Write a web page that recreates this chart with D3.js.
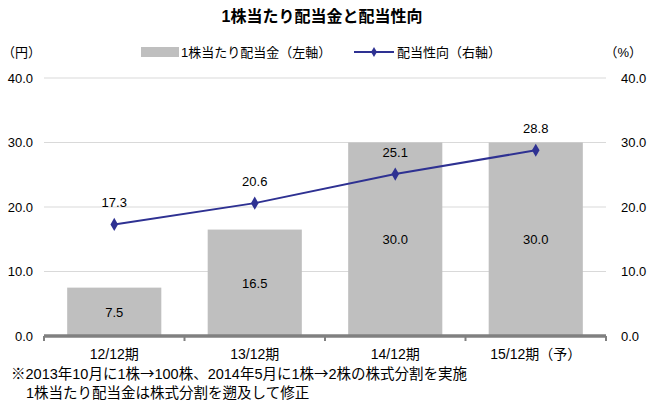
<!DOCTYPE html>
<html><head><meta charset="utf-8">
<script src="https://cdn.jsdelivr.net/npm/d3@7"></script>
<style>
body{margin:0;background:#fff;}
text{font-family:"Liberation Sans","Noto Sans CJK JP",sans-serif;}
</style></head>
<body><svg id="c" width="652" height="406"></svg>
<script>
const categories = ["12/12期","13/12期","14/12期","15/12期（予）"];
const dividend = [7.5, 16.5, 30.0, 30.0];
const payoutRatio = [17.3, 20.6, 25.1, 28.8];
const yTicks = [0, 10, 20, 30, 40];
const title = "1株当たり配当金と配当性向";
const legendBar = "1株当たり配当金（左軸）";
const legendLine = "配当性向（右軸）";
const notes = ["※2013年10月に1株→100株、2014年5月に1株→2株の株式分割を実施","1株当たり配当金は株式分割を遡及して修正"];

const svg = d3.select("#c");
const L = 44, R = 606, T = 78, B = 336;
const x = d3.scaleBand().domain(categories).range([L, R]).paddingInner(0.33).paddingOuter(0.165);
const xOuter = d3.scaleBand().domain(categories).range([L, R]);
const yL = d3.scaleLinear().domain([0, 40]).range([B, T]);
const yR = d3.scaleLinear().domain([0, 40]).range([B, T]);

svg.append("text").attr("x", 322).attr("y", 22).attr("text-anchor", "middle")
  .attr("font-size", 16).attr("font-weight", "bold").attr("fill", "#000").text(title);

// grid
svg.append("g").selectAll("line").data(yTicks.filter(d => d > 0)).join("line")
  .attr("x1", L).attr("x2", R).attr("y1", d => yL(d)).attr("y2", d => yL(d))
  .attr("stroke", "#d9d9d9").attr("stroke-width", 1);

// axes labels
const fmt = d3.format(".1f");
const gl = svg.append("g").attr("transform", `translate(${L},0)`)
  .call(d3.axisLeft(yL).tickValues(yTicks).tickFormat(fmt).tickSize(0).tickPadding(11));
const gr = svg.append("g").attr("transform", `translate(${R},0)`)
  .call(d3.axisRight(yR).tickValues(yTicks).tickFormat(fmt).tickSize(0).tickPadding(15));
[gl, gr].forEach(g => { g.select(".domain").remove(); g.selectAll("text").attr("font-size", 13).attr("fill", "#000").attr("font-family", "Liberation Sans, sans-serif"); });

// bars
svg.append("g").selectAll("rect").data(dividend).join("rect")
  .attr("x", (d, i) => x(categories[i])).attr("width", x.bandwidth())
  .attr("y", d => yL(d)).attr("height", d => B - yL(d)).attr("fill", "#bfbfbf");

svg.append("g").selectAll("text").data(dividend).join("text")
  .attr("x", (d, i) => x(categories[i]) + x.bandwidth() / 2)
  .attr("y", d => (yL(d) + B) / 2 + 5).attr("text-anchor", "middle")
  .attr("font-size", 13).attr("fill", "#000").text(d => fmt(d));

// x axis
const gx = svg.append("g").attr("transform", `translate(0,${B})`)
  .call(d3.axisBottom(xOuter).tickSize(0).tickPadding(13));
gx.select(".domain").remove();
gx.selectAll("text").attr("font-size", 14).attr("fill", "#000");
svg.append("line").attr("x1", L).attr("x2", R).attr("y1", B).attr("y2", B)
  .attr("stroke", "#808080").attr("stroke-width", 3.5);
const bounds = [L].concat(categories.map(c => xOuter(c) + xOuter.bandwidth()));
svg.append("g").selectAll("line").data(bounds).join("line")
  .attr("x1", d => d).attr("x2", d => d).attr("y1", B).attr("y2", B + 5)
  .attr("stroke", "#808080").attr("stroke-width", 2);

// line
const cx = i => xOuter(categories[i]) + xOuter.bandwidth() / 2;
svg.append("path").datum(payoutRatio)
  .attr("d", d3.line().x((d, i) => cx(i)).y(d => yR(d)))
  .attr("fill", "none").attr("stroke", "#2e3192").attr("stroke-width", 2);
svg.append("g").selectAll("path").data(payoutRatio).join("path")
  .attr("transform", (d, i) => `translate(${cx(i)},${yR(d)})`)
  .attr("d", d3.symbol(d3.symbolDiamond, 50)()).attr("fill", "#2e3192");
svg.append("g").selectAll("text").data(payoutRatio).join("text")
  .attr("x", (d, i) => cx(i)).attr("y", d => yR(d) - 17).attr("text-anchor", "middle")
  .attr("font-size", 13).attr("fill", "#000").text(d => fmt(d));

// unit labels
svg.append("text").attr("x", 2).attr("y", 57).attr("font-size", 13).text("（円）");
svg.append("text").attr("x", 642).attr("y", 57).attr("font-size", 13).attr("text-anchor", "end").text("（%）");

// legend
svg.append("rect").attr("x", 141).attr("y", 47).attr("width", 38).attr("height", 10).attr("fill", "#bfbfbf");
svg.append("text").attr("x", 181).attr("y", 57).attr("font-size", 13).text(legendBar);
svg.append("line").attr("x1", 354).attr("x2", 394).attr("y1", 52).attr("y2", 52).attr("stroke", "#2e3192").attr("stroke-width", 2);
svg.append("path").attr("transform", "translate(374,52)").attr("d", d3.symbol(d3.symbolDiamond, 30)()).attr("fill", "#2e3192");
svg.append("text").attr("x", 397).attr("y", 57).attr("font-size", 13).text(legendLine);

// notes
const nt = svg.selectAll("text.note").data(notes).join("text").attr("class", "note")
  .attr("x", (d, i) => i === 0 ? 11 : 26).attr("y", (d, i) => 379 + i * 19).attr("font-size", 14.5).attr("fill", "#000");
nt.each(function(d) {
  const t = d3.select(this);
  d.split("→").forEach((part, j) => {
    if (j > 0) t.append("tspan").attr("font-family", "Noto Sans CJK JP").text("→");
    t.append("tspan").text(part);
  });
});
</script></body></html>
